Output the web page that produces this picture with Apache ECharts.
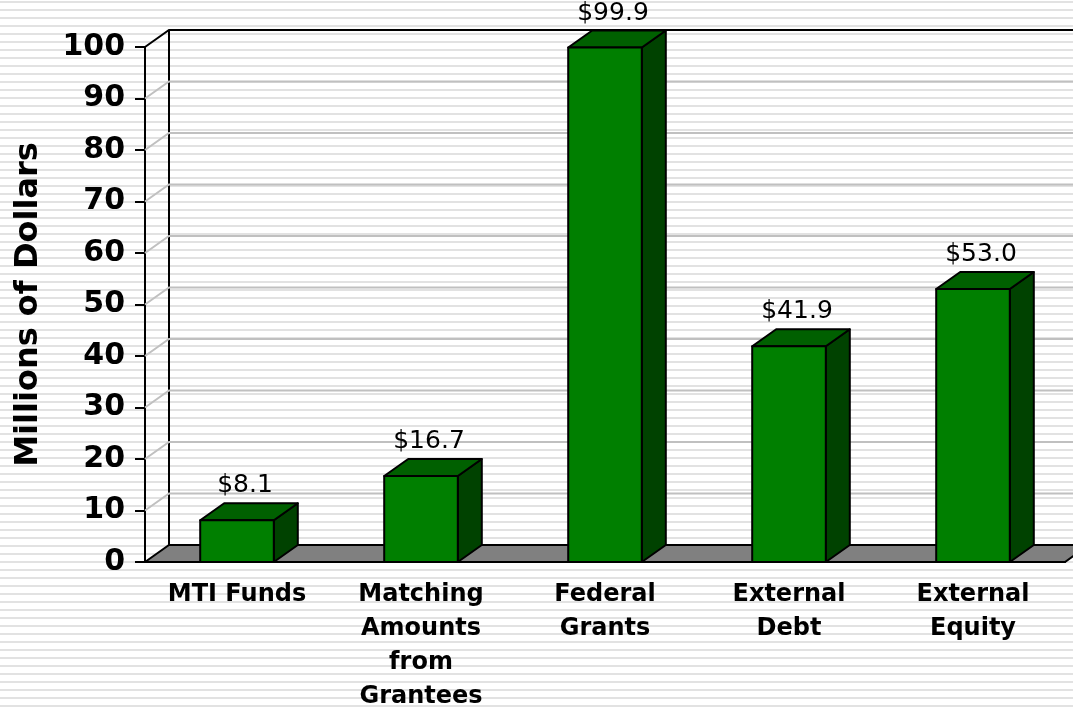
<!DOCTYPE html>
<html>
<head>
<meta charset="utf-8">
<script src="https://cdn.jsdelivr.net/npm/echarts@6/dist/echarts.min.js"></script>
<style>
  html, body {
    margin: 0;
    padding: 0;
    width: 1073px;
    height: 707px;
    overflow: hidden;
    background: repeating-linear-gradient(to bottom, #ffffff 0px, #ffffff 1px, #e2e2e2 1px, #e2e2e2 3px, #ffffff 3px, #ffffff 8px);
  }
  #chart { width: 1073px; height: 707px; }
</style>
</head>
<body>
<div id="chart"></div>
<script>
// chart data
const categories = ["MTI Funds", "Matching\nAmounts\nfrom\nGrantees", "Federal\nGrants", "External\nDebt", "External\nEquity"];
const values = [8.1, 16.7, 99.9, 41.9, 53.0];
const yTicks = [0, 10, 20, 30, 40, 50, 60, 70, 80, 90, 100];

// 3d depth offset
const DX = 24, DY = 17;
const FONT = "DejaVu Sans";

let myChart = echarts.init(document.getElementById("chart"));

function renderWall(params, api) {
  const cs = params.coordSys;
  const v = api.value(1);
  const y = api.coord([0, v])[1];
  const x0 = cs.x, x1 = cs.x + cs.width;
  const children = [];
  if (v === 0) {
    const yTop = api.coord([0, 100])[1];
    children.push({
      type: "polygon",
      shape: { points: [[x0, y], [x0 + DX, y - DY], [x1 + DX, y - DY], [x1, y]] },
      style: { fill: "#808080", stroke: "#000", lineWidth: 2 }
    });
    children.push({
      type: "line",
      shape: { x1: x0 + DX, y1: yTop - DY, x2: x0 + DX, y2: y - DY },
      style: { stroke: "#000", lineWidth: 2 }
    });
  } else {
    const isTop = v === 100;
    children.push({
      type: "polyline",
      shape: { points: [[x0, y], [x0 + DX, y - DY], [x1 + DX + 40, y - DY]] },
      style: { stroke: isTop ? "#000" : "#c0c0c0", lineWidth: 2, fill: null }
    });
  }
  return { type: "group", children: children };
}

function renderBar(params, api) {
  const top = api.coord([api.value(0), api.value(1)]);
  const base = api.coord([api.value(0), 0]);
  const w = api.size([1, 0])[0] * 0.4;
  const l = top[0] - w / 2, r = top[0] + w / 2;
  const st = { stroke: "#000", lineWidth: 2, lineJoin: "round" };
  return {
    type: "group",
    children: [
      {
        type: "polygon",
        shape: { points: [[r, top[1]], [r + DX, top[1] - DY], [r + DX, base[1] - DY], [r, base[1]]] },
        style: Object.assign({ fill: "#004200" }, st)
      },
      {
        type: "polygon",
        shape: { points: [[l, top[1]], [l + DX, top[1] - DY], [r + DX, top[1] - DY], [r, top[1]]] },
        style: Object.assign({ fill: "#006000" }, st)
      },
      {
        type: "rect",
        shape: { x: l, y: top[1], width: w, height: base[1] - top[1] },
        style: Object.assign({ fill: "#007f00" }, st)
      },
      {
        type: "text",
        x: top[0] + DX / 2 - 4,
        y: top[1] - DY - 5,
        style: {
          text: "$" + api.value(1).toFixed(1),
          fill: "#000",
          font: "25px " + FONT,
          align: "center",
          verticalAlign: "bottom"
        }
      }
    ]
  };
}

let option = {
  animation: false,
  grid: {
    left: 145,
    top: 47,
    width: 920,
    height: 515,
    outerBoundsMode: "none",
    containLabel: false
  },
  xAxis: {
    type: "category",
    data: categories,
    axisLine: { lineStyle: { color: "#000", width: 2 } },
    axisTick: { length: 10, lineStyle: { color: "#000", width: 2 } },
    axisLabel: {
      interval: 0,
      color: "#000",
      fontFamily: FONT,
      fontWeight: "bold",
      fontSize: 24,
      lineHeight: 34,
      margin: 16
    }
  },
  yAxis: {
    type: "value",
    min: 0,
    max: 100,
    interval: 10,
    name: "Millions of Dollars",
    nameLocation: "middle",
    nameGap: 100,
    nameRotate: 90,
    nameTextStyle: { color: "#000", fontFamily: FONT, fontWeight: "bold", fontSize: 32 },
    axisLine: { show: true, lineStyle: { color: "#000", width: 2 } },
    axisTick: { show: true, length: 10, lineStyle: { color: "#000", width: 2 } },
    splitLine: { show: false },
    axisLabel: { color: "#000", fontFamily: FONT, fontWeight: "bold", fontSize: 30, margin: 20 }
  },
  series: [
    {
      type: "custom",
      z: 1,
      renderItem: renderWall,
      data: yTicks.map((v) => [0, v])
    },
    {
      type: "custom",
      z: 3,
      renderItem: renderBar,
      data: values.map((v, i) => [i, v])
    }
  ]
};

myChart.setOption(option);
</script>
</body>
</html>
